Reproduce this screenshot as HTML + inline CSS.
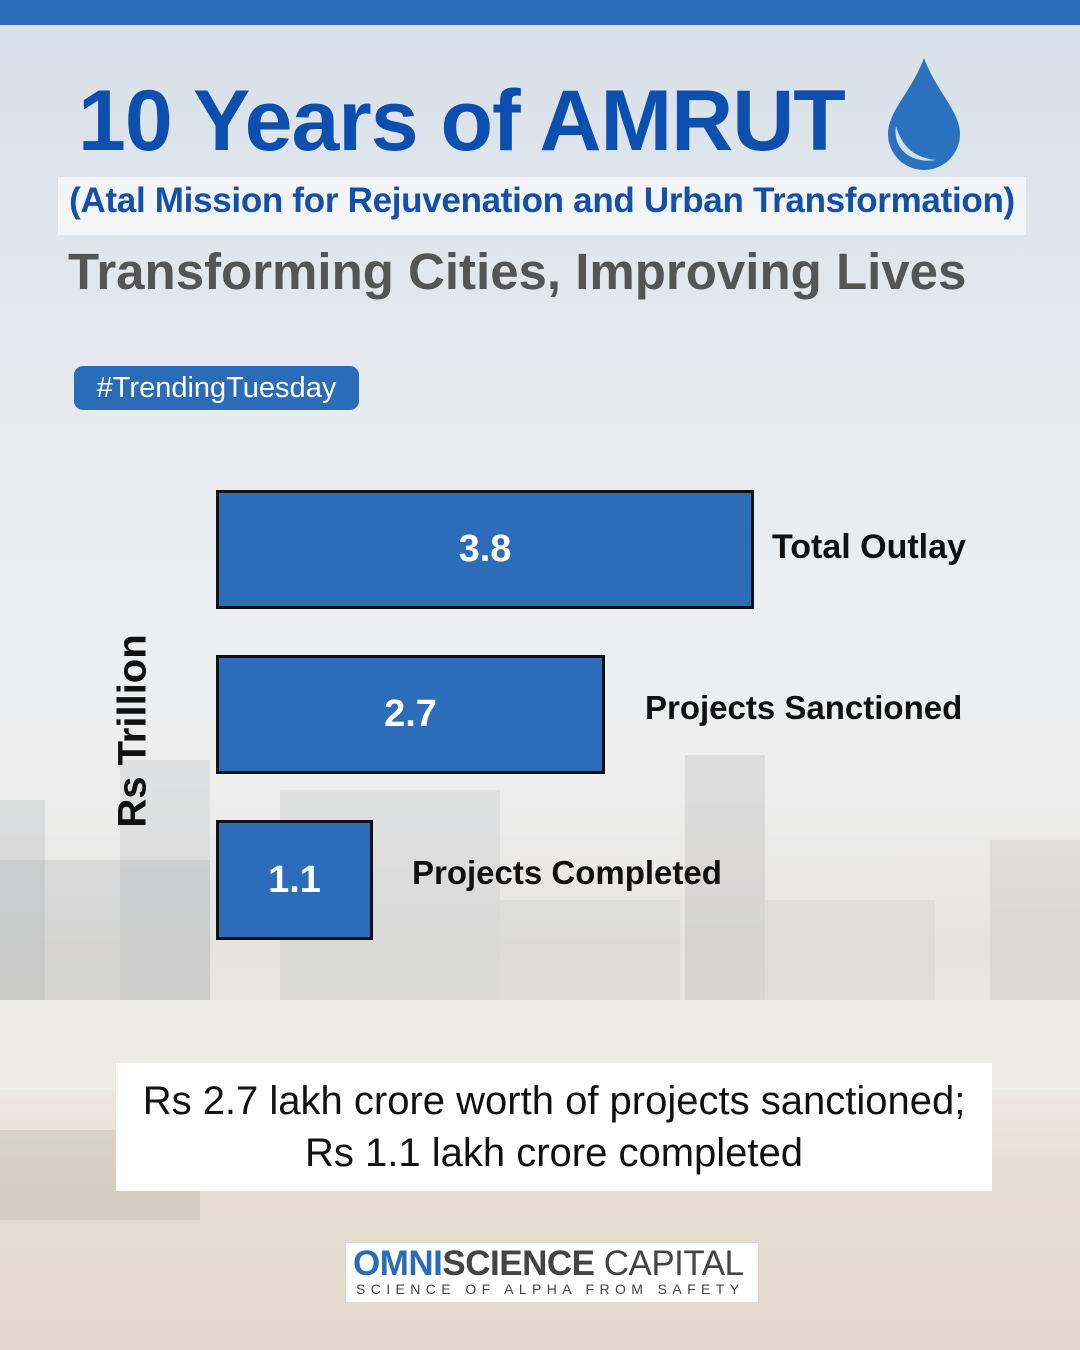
<!DOCTYPE html>
<html><head><meta charset="utf-8"><style>
*{margin:0;padding:0;box-sizing:border-box}
body{width:1080px;height:1350px;position:relative;overflow:hidden;font-family:"Liberation Sans",sans-serif;
background:linear-gradient(180deg,#d9e0e9 0%,#e4e8ee 25%,#eceef0 45%,#eeeeee 58%,#e6e4e2 70%,#e9e6e2 75%,#eee9e2 80%,#e6ddd2 88%,#e2d8cc 100%);}
.abs{position:absolute}
.b{position:absolute;background:rgba(150,155,160,0.2)}
.bar{position:absolute;background:#2b6db8;border:3px solid #111;color:#fff;font-weight:bold;font-size:38px;display:flex;align-items:center;justify-content:center}
.lab{position:absolute;font-weight:bold;font-size:33px;color:#111;white-space:nowrap}
</style></head><body>
<div class="abs" style="left:0;top:0;width:1080px;height:25px;background:#2b6cb8"></div>
<div class="b" style="left:0;top:800px;width:45px;height:200px"></div>
<div class="b" style="left:0;top:860px;width:210px;height:140px"></div>
<div class="b" style="left:120px;top:760px;width:90px;height:240px;background:rgba(150,155,160,0.15)"></div>
<div class="b" style="left:280px;top:790px;width:220px;height:210px;background:rgba(150,155,160,0.15)"></div>
<div class="b" style="left:500px;top:900px;width:180px;height:100px;background:rgba(150,155,160,0.12)"></div>
<div class="b" style="left:685px;top:755px;width:80px;height:245px;background:rgba(150,150,150,0.2)"></div>
<div class="b" style="left:765px;top:900px;width:170px;height:100px;background:rgba(170,165,160,0.12)"></div>
<div class="b" style="left:990px;top:840px;width:90px;height:160px;background:rgba(150,150,150,0.15)"></div>
<div class="abs" style="left:0;top:1000px;width:1080px;height:90px;background:rgba(240,238,236,0.6)"></div>
<div class="abs" style="left:0;top:1130px;width:200px;height:90px;background:rgba(120,130,110,0.15)"></div>

<div class="abs" style="left:78px;top:72px;font-size:86px;font-weight:bold;color:#0c4fae;white-space:nowrap;letter-spacing:-1px">10 Years of AMRUT</div>
<svg class="abs" style="left:884px;top:56px" width="80" height="115" viewBox="0 0 80 115">
<path d="M40 2 C52 35 76 55 76 78 A36 36 0 0 1 4 78 C4 55 28 35 40 2Z" fill="#2a72c0"/>
<path d="M12 70 C8 95 30 108 52 104 C32 102 18 92 12 70Z" fill="#cfe0f2"/>
</svg>
<div class="abs" style="left:58px;top:177px;width:968px;height:58px;background:rgba(255,255,255,0.6)"></div>
<div class="abs" style="left:58px;top:181px;width:968px;text-align:center;font-size:35px;font-weight:bold;color:#1550a8;white-space:nowrap;letter-spacing:-0.3px">(Atal Mission for Rejuvenation and Urban Transformation)</div>
<div class="abs" style="left:68px;top:242px;font-size:51px;font-weight:bold;color:#555;white-space:nowrap">Transforming Cities, Improving Lives</div>
<div class="abs" style="left:74px;top:366px;width:285px;height:44px;background:#2b6cb8;border-radius:9px;color:#fff;font-size:29px;text-align:center;line-height:44px">#TrendingTuesday</div>

<div class="bar" style="left:216px;top:490px;width:538px;height:119px">3.8</div>
<div class="bar" style="left:216px;top:655px;width:389px;height:119px">2.7</div>
<div class="bar" style="left:216px;top:820px;width:157px;height:120px">1.1</div>
<div class="lab" style="left:772px;top:528px;font-size:34px">Total Outlay</div>
<div class="lab" style="left:645px;top:689px">Projects Sanctioned</div>
<div class="lab" style="left:412px;top:854px">Projects Completed</div>
<div class="abs" style="left:133px;top:731px;transform:translate(-50%,-50%) rotate(-90deg);font-size:40px;font-weight:bold;color:#111;white-space:nowrap">Rs Trillion</div>

<div class="abs" style="left:116px;top:1063px;width:876px;height:128px;background:#fff;text-align:center;font-size:40px;line-height:52px;padding-top:12px;color:#111">Rs 2.7 lakh crore worth of projects sanctioned;<br>Rs 1.1 lakh crore completed</div>

<div class="abs" style="left:346px;top:1243px;width:412px;height:59px;background:#fff"></div>
<div class="abs" style="left:353px;top:1244px;font-size:35px;font-weight:bold;white-space:nowrap;letter-spacing:-0.5px"><span style="color:#2b6cb8;font-weight:900">OMNI</span><span style="color:#444">SCIENCE</span> <span style="color:#444;font-weight:normal">CAPITAL</span></div>
<div class="abs" style="left:356px;top:1281px;font-size:14px;color:#444;letter-spacing:5.4px;white-space:nowrap">SCIENCE OF ALPHA FROM SAFETY</div>
</body></html>
